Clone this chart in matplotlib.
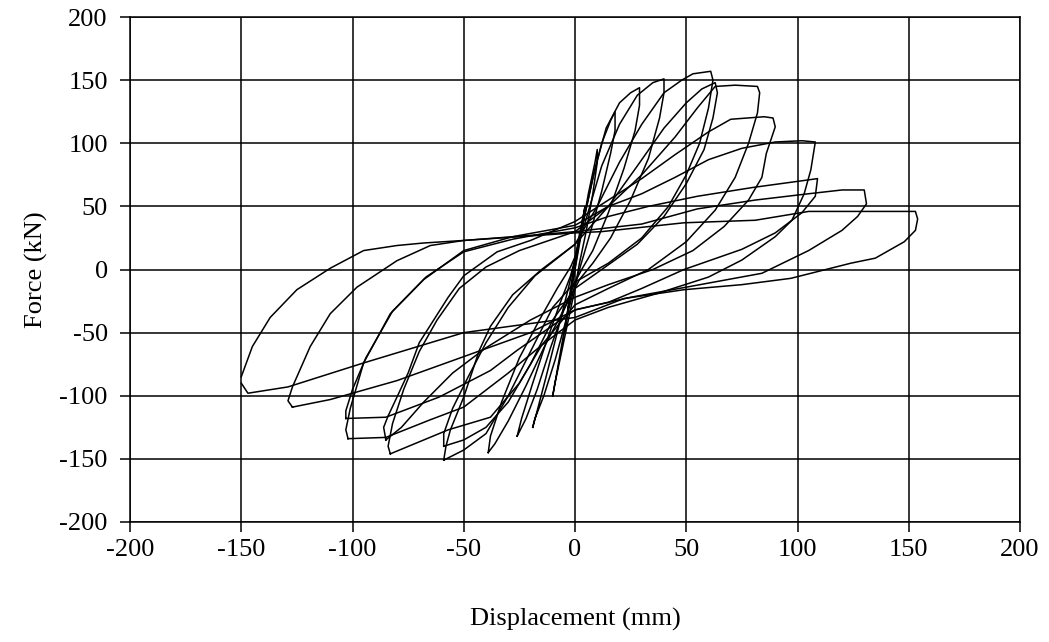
import matplotlib.pyplot as plt

# Cyclic load test: force vs displacement, one closed loop per cycle.
# Each loop is an upper branch (negative peak -> positive peak)
# followed by a lower branch (positive peak -> negative peak).

# cycle 1 (+/-5 mm)
c1_up_d = [-4, -2, 0, 2, 4, 4.5]
c1_up_f = [-42, -15, 8, 28, 45, 50]
c1_lo_d = [4.5, 3, 1, -1, -3, -4.5, -4]
c1_lo_f = [50, 35, 12, -10, -30, -50, -42]

# cycle 2 (+/-10 mm)
c2_up_d = [-10, -8, -5, -2, 0, 3, 6, 9, 10]
c2_up_f = [-100, -80, -50, -20, 0, 30, 60, 85, 95]
c2_lo_d = [10, 8, 5, 2, 0, -3, -6, -9, -10]
c2_lo_f = [85, 60, 30, 5, -15, -40, -65, -90, -100]

# cycle 3 (+/-18 mm)
c3_up_d = [-19, -17, -13, -8, -3, 0, 4, 8, 12, 16, 18]
c3_up_f = [-125, -112, -85, -50, -15, 8, 40, 72, 100, 118, 125]
c3_lo_d = [18, 16, 12, 7, 2, 0, -4, -9, -14, -18, -19]
c3_lo_f = [110, 92, 62, 30, 0, -12, -40, -72, -100, -118, -125]

# cycle 4 (+/-28 mm)
c4_up_d = [-26, -24, -19, -13, -7, -2, 0, 4, 9, 14, 20, 25, 29]
c4_up_f = [-132, -118, -90, -58, -28, -5, 8, 40, 80, 112, 132, 140, 144]
c4_lo_d = [29, 27, 22, 15, 8, 3, 0, -5, -11, -17, -22, -26]
c4_lo_f = [130, 110, 80, 45, 15, 0, -10, -32, -62, -95, -118, -132]

# cycle 5 (+/-40 mm)
c5_up_d = [-39, -38, -33, -25, -16, -8, -2, 0, 5, 12, 20, 28, 35, 40]
c5_up_f = [-145, -132, -105, -70, -40, -15, 2, 10, 40, 82, 115, 138, 148, 151]
c5_lo_d = [40, 38, 33, 25, 16, 8, 2, 0, -6, -14, -22, -30, -36, -39]
c5_lo_f = [140, 120, 88, 55, 25, 5, -8, -15, -35, -62, -92, -120, -138, -145]

# cycle 6 (+/-60 mm, first)
c6_up_d = [-59, -58, -56, -50, -43, -38, -28, -15, 0, 10, 20, 30, 40, 48, 53, 61]
c6_up_f = [-151, -140, -127, -101, -64, -45, -20, 0, 20, 50, 85, 115, 140, 150, 155, 157]
c6_lo_d = [61, 62, 60, 56, 50, 42, 30, 15, 0, -10, -20, -30, -40, -50, -59]
c6_lo_f = [157, 150, 128, 100, 75, 50, 25, 5, -10, -30, -65, -100, -130, -143, -151]

# cycle 7 (+/-60 mm, second)
c7_up_d = [-59, -59, -55, -48, -40, -30, -18, 0, 15, 28, 40, 50, 57, 63]
c7_up_f = [-140, -130, -110, -85, -58, -30, -5, 20, 50, 82, 112, 132, 143, 148]
c7_lo_d = [63, 64, 62, 58, 50, 40, 28, 12, 0, -10, -20, -30, -40, -50, -59]
c7_lo_f = [148, 140, 120, 95, 68, 42, 20, 0, -15, -40, -75, -105, -125, -135, -140]

# cycle 8 (+/-83 mm, first)
c8_up_d = [-83, -84, -82, -77, -70, -62, -52, -40, -25, 0, 15, 30, 45, 55, 63, 72, 82]
c8_up_f = [-146, -140, -122, -95, -65, -40, -15, 2, 15, 30, 50, 75, 105, 128, 145, 146, 145]
c8_lo_d = [82, 83, 82, 78, 72, 63, 50, 33, 15, 0, -15, -25, -38, -57, -83]
c8_lo_f = [145, 140, 124, 100, 73, 47, 22, 0, -15, -28, -60, -90, -117, -127, -146]

# cycle 9 (+/-87 mm, second)
c9_up_d = [-85, -86, -84, -80, -75, -70, -57, -50, -35, -20, 0, 15, 30, 45, 60, 70, 85, 89]
c9_up_f = [-135, -125, -116, -101, -82, -58, -22, -5, 14, 23, 38, 55, 72, 91, 109, 119, 121, 120]
c9_lo_d = [89, 90, 86, 84, 78, 67, 53, 35, 15, 0, -20, -40, -55, -68, -78, -85]
c9_lo_f = [120, 113, 92, 73, 55, 34, 15, 0, -12, -22, -40, -62, -82, -105, -125, -135]

# cycle 10 (+/-105 mm, first)
c10_up_d = [-102, -103, -101, -95, -83, -68, -50, -28, 0, 15, 30, 45, 60, 75, 90, 102, 108]
c10_up_f = [-134, -127, -110, -74, -35, -8, 15, 26, 35, 50, 60, 73, 87, 96, 101, 102, 101]
c10_lo_d = [108, 107, 106, 103, 97.5, 90, 75, 60, 37, 15, 0, -15, -30, -50, -65, -85, -102]
c10_lo_f = [101, 90, 79, 60, 39, 26, 7.5, -6, -19, -30, -40, -60, -82, -109, -119, -133, -134]

# cycle 11 (+/-105 mm, second)
c11_up_d = [-103, -103, -100, -94, -82, -67, -50, -28, 0, 15, 33, 55, 80, 105, 109]
c11_up_f = [-118, -112, -95, -70, -33, -6, 14, 24, 33, 42, 50, 58, 65, 71, 72]
c11_lo_d = [109, 108, 102, 90, 75, 49, 30, 15, 0, -26, -38, -61, -85, -103]
c11_lo_f = [72, 58, 45, 29, 16, 0, -15, -26, -32, -64, -80, -101, -117, -118]

# cycle 12 (+/-130 mm)
c12_up_d = [-127, -129, -127, -119, -110, -98, -80, -65, -50, -20, 0, 30, 55, 81, 105, 120, 130]
c12_up_f = [-109, -104, -93, -61, -35, -14, 7, 19, 23, 27, 30, 36, 48, 55, 60, 63, 63]
c12_lo_d = [130, 131, 127, 120, 105, 84, 50, 25, 0, -20, -50, -80, -110, -127]
c12_lo_f = [63, 52, 42, 31, 15, -3, -14, -22, -32, -50, -69, -88, -103, -109]

# cycle 13 (+/-150 mm)
c13_up_d = [-150, -145, -137, -125, -110, -95, -80, -68, -50, 0, 12, 49, 81, 105, 153]
c13_up_f = [-85, -61, -38, -16, 1, 15, 19, 21, 23, 29, 30, 37, 39, 46, 46]
c13_lo_d = [153, 154, 153, 148, 135, 124, 97, 75, 49, 22, 0, -50, -95, -129, -147, -150]
c13_lo_f = [46, 40, 31, 22, 9, 5, -7, -12, -16, -23, -38, -50, -74, -93, -98, -90]

cycles = [
    (c1_up_d, c1_up_f, c1_lo_d, c1_lo_f),
    (c2_up_d, c2_up_f, c2_lo_d, c2_lo_f),
    (c3_up_d, c3_up_f, c3_lo_d, c3_lo_f),
    (c4_up_d, c4_up_f, c4_lo_d, c4_lo_f),
    (c5_up_d, c5_up_f, c5_lo_d, c5_lo_f),
    (c6_up_d, c6_up_f, c6_lo_d, c6_lo_f),
    (c7_up_d, c7_up_f, c7_lo_d, c7_lo_f),
    (c8_up_d, c8_up_f, c8_lo_d, c8_lo_f),
    (c9_up_d, c9_up_f, c9_lo_d, c9_lo_f),
    (c10_up_d, c10_up_f, c10_lo_d, c10_lo_f),
    (c11_up_d, c11_up_f, c11_lo_d, c11_lo_f),
    (c12_up_d, c12_up_f, c12_lo_d, c12_lo_f),
    (c13_up_d, c13_up_f, c13_lo_d, c13_lo_f),
]

ticks = [-200, -150, -100, -50, 0, 50, 100, 150, 200]

plt.rcParams['font.family'] = ['Liberation Serif', 'DejaVu Serif']
plt.rcParams['axes.unicode_minus'] = False

fig = plt.figure(figsize=(10.49, 6.42), dpi=100)
ax = fig.add_axes([130 / 1049, 120 / 642, 890 / 1049, 505 / 642])

# draw every cycle as one closed line
for up_d, up_f, lo_d, lo_f in cycles:
    ax.plot(up_d + lo_d, up_f + lo_f, color='black', lw=1.1)

ax.set_xlim(-200, 200)
ax.set_ylim(-200, 200)
ax.set_xticks(ticks)
ax.set_yticks(ticks)
ax.grid(True, color='black', lw=1.1)
ax.set_axisbelow(True)
for s in ax.spines.values():
    s.set_color('black')
    s.set_linewidth(1.1)
ax.tick_params(direction='out', length=7, width=1.1, labelsize=19, colors='black')
ax.tick_params(axis='y', pad=9)
ax.tick_params(axis='x', pad=5)

ax.set_xlabel('Displacement (mm)', fontsize=19, labelpad=34)
ax.set_ylabel('Force (kN)', fontsize=19, labelpad=8)

fig.savefig('out.png', dpi=100)
